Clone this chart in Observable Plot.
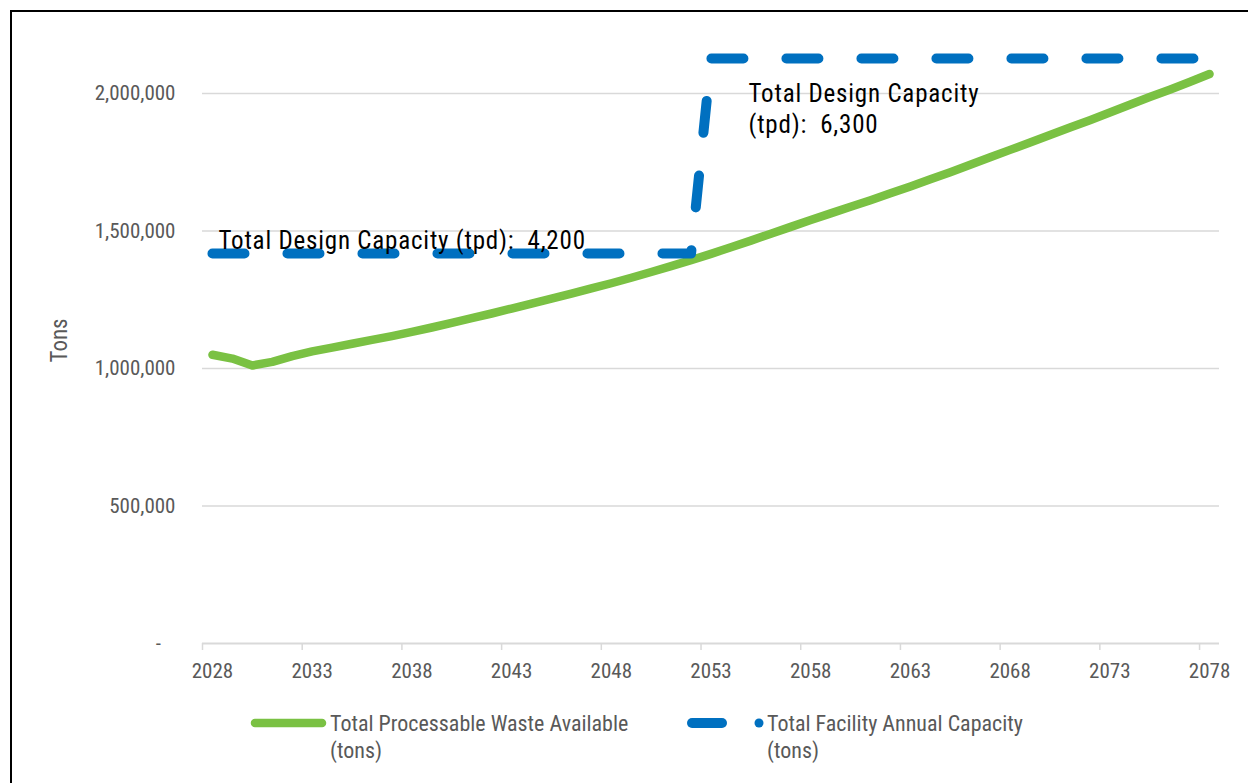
<!DOCTYPE html>
<html>
<head>
<meta charset="utf-8">
<script src="https://cdn.jsdelivr.net/npm/d3@7"></script>
<script src="https://cdn.jsdelivr.net/npm/@observablehq/plot@0.6"></script>
<style>
  html, body { margin: 0; padding: 0; background: #fff; overflow: hidden; }
  #wrap { position: relative; width: 1248px; height: 783px; }
  #chart { position: absolute; left: 0; top: 0; }
  #legend { position: absolute; left: 0; top: 690px; }
  #border { position: absolute; left: 10px; top: 10px; width: 1400px; height: 1000px;
            border-left: 2px solid #000; border-top: 2px solid #000; pointer-events: none; }
</style>
</head>
<body>
<div id="wrap">
  <div id="chart"></div>
  <div id="legend"></div>
  <div id="border"></div>
</div>
<script>
const FONT = "'Liberation Sans Narrow', 'Arial Narrow', 'Roboto Condensed', 'DejaVu Sans Condensed', sans-serif";

// ---- data ----
const years = d3.range(2028, 2079);
const wasteTons = [
  1050000, 1036000, 1011000, 1024000, 1045000, 1062000, 1076000, 1090000, 1104000, 1118000,
  1133000, 1149000, 1166000, 1183000, 1200000, 1218000, 1236000, 1254000, 1272000, 1291000,
  1310000, 1330000, 1351000, 1372000, 1394000, 1417000, 1441000, 1465000, 1490000, 1515000,
  1540000, 1564000, 1588000, 1612000, 1637000, 1662000, 1688000, 1714000, 1741000, 1768000,
  1795000, 1822000, 1849000, 1876000, 1903000, 1931000, 1959000, 1987000, 2014000, 2042000,
  2071000
];
const capacityTons = [
  1418000, 1418000, 1418000, 1418000, 1418000, 1418000, 1418000, 1418000, 1418000, 1418000,
  1418000, 1418000, 1418000, 1418000, 1418000, 1418000, 1418000, 1418000, 1418000, 1418000,
  1418000, 1418000, 1418000, 1418000, 1418000, 2127000, 2127000, 2127000, 2127000, 2127000,
  2127000, 2127000, 2127000, 2127000, 2127000, 2127000, 2127000, 2127000, 2127000, 2127000,
  2127000, 2127000, 2127000, 2127000, 2127000, 2127000, 2127000, 2127000, 2127000, 2127000,
  2127000
];
const xTickYears = [2028, 2033, 2038, 2043, 2048, 2053, 2058, 2063, 2068, 2073, 2078];
const yTicks = [0, 500000, 1000000, 1500000, 2000000];
const yTitle = "Tons";
const seriesNames = ["Total Processable Waste Available\n(tons)", "Total Facility Annual Capacity\n(tons)"];
const annotations = [
  {year: 2028.3, value: 1472700, text: "Total Design Capacity (tpd):\u00a0 4,200"},
  {year: 2054.88, value: 1950000, text: "Total Design Capacity\n(tpd):\u00a0 6,300"}
];

const GREEN = "#7AC143";
const BLUE = "#0070C0";
const GRAY_TXT = "#595959";
const GRID = "#d9d9d9";

const rows = years.map((y, i) => ({year: y, waste: wasteTons[i], capacity: capacityTons[i]}));
const tickBounds = xTickYears.map(y => y - 0.5);

const chart = Plot.plot({
  width: 1248,
  height: 690,
  marginLeft: 202,
  marginRight: 29,
  marginTop: 38,
  marginBottom: 47,
  style: {fontFamily: FONT, background: "#fff", overflow: "visible"},
  x: {type: "linear", domain: [2027.5, 2078.5]},
  y: {type: "linear", domain: [0, 2200000]},
  marks: [
    Plot.gridY(yTicks.filter(d => d > 0), {stroke: GRID, strokeOpacity: 1, strokeWidth: 1.5}),
    Plot.ruleY([0], {stroke: GRID, strokeWidth: 1.8}),
    Plot.axisX({ticks: tickBounds, tickSize: 7, tickFormat: () => "", stroke: GRID, strokeWidth: 1.5, label: null}),
    Plot.axisX({ticks: xTickYears, tickSize: 0, tickPadding: 20, tickFormat: d => String(d),
                fontSize: 21, fill: GRAY_TXT, label: null}),
    Plot.axisY({ticks: yTicks, tickSize: 0, tickPadding: 27,
                tickFormat: d => d === 0 ? "-\u00a0\u00a0\u00a0" : d3.format(",")(d),
                fontSize: 21, fill: GRAY_TXT, label: null}),
    Plot.text([yTitle], {x: () => 2020.35, y: () => 1102000, text: d => d, rotate: -90,
                         fontSize: 23, fill: GRAY_TXT, clip: false}),
    Plot.line(rows, {x: "year", y: "waste", stroke: GREEN, strokeWidth: 8.5,
                     strokeLinecap: "round", strokeLinejoin: "round"}),
    Plot.line(rows, {x: "year", y: "capacity", stroke: BLUE, strokeWidth: 10,
                     strokeDasharray: "32,43", strokeLinecap: "round", strokeLinejoin: "round"}),
    Plot.text(annotations, {x: "year", y: "value", text: "text", textAnchor: "start",
                           lineAnchor: "middle", lineHeight: 1.27, fontSize: 25, fill: "#000",
                           style: {letterSpacing: "0.8px"}})
  ]
});
document.getElementById("chart").appendChild(chart);
d3.select(chart).selectAll("text").filter(function() { return /Design/.test(this.textContent); })
  .style("letter-spacing", "0.8px");

// ---- legend ----
const lg = d3.select("#legend").append("svg")
  .attr("width", 1248).attr("height", 93)
  .style("font-family", FONT);
const ly = 33;
lg.append("line").attr("x1", 255).attr("x2", 322).attr("y1", ly).attr("y2", ly)
  .attr("stroke", GREEN).attr("stroke-width", 8.5).attr("stroke-linecap", "round");
lg.append("line").attr("x1", 692).attr("x2", 722).attr("y1", ly).attr("y2", ly)
  .attr("stroke", BLUE).attr("stroke-width", 10).attr("stroke-linecap", "round");
lg.append("circle").attr("cx", 759).attr("cy", ly).attr("r", 4.5).attr("fill", BLUE);
const legendX = [330, 767];
seriesNames.forEach((name, i) => {
  const t = lg.append("text").attr("x", legendX[i]).attr("y", ly)
    .attr("fill", GRAY_TXT).attr("font-size", 22);
  name.split("\n").forEach((line, j) => {
    t.append("tspan").attr("x", legendX[i]).attr("dy", j === 0 ? "0.35em" : "27px").text(line);
  });
});
</script>
</body>
</html>
